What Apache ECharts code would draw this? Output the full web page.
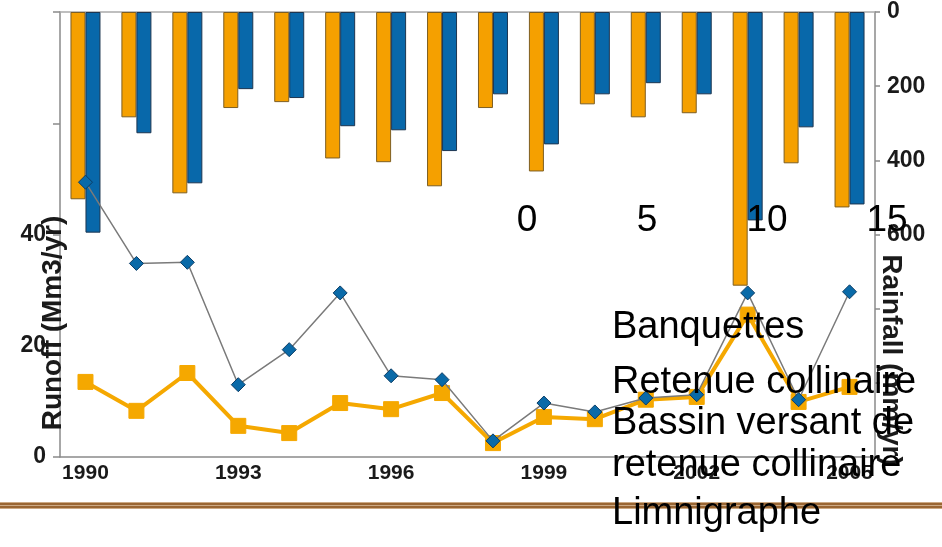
<!DOCTYPE html>
<html>
<head>
<meta charset="utf-8">
<script src="https://cdn.jsdelivr.net/npm/echarts@6/dist/echarts.min.js"></script>
<style>
html,body{margin:0;padding:0;background:#fff;}
#chart{width:942px;height:547px;}
</style>
</head>
<body>
<div id="chart"></div>
<script>
// ---- data ----
var years = ['1990','1991','1992','1993','1994','1995','1996','1997','1998','1999','2000','2001','2002','2003','2004','2005'];
// Runoff (Mm3/yr), left axis
var runoffDiamond = [49.4, 34.8, 35.0, 13.0, 19.3, 29.5, 14.6, 13.9, 2.9, 9.7, 8.1, 10.6, 11.2, 29.5, 10.3, 29.7];
var runoffSquare  = [13.5, 8.3, 15.1, 5.6, 4.3, 9.7, 8.6, 11.5, 2.5, 7.2, 6.8, 10.3, 10.8, 25.6, 9.9, 12.6];
// Rainfall (mm/yr), right axis (inverted)
var rainfallOrange = [505, 284, 489, 259, 243, 395, 405, 470, 259, 430, 249, 284, 273, 738, 408, 527];
var rainfallBlue   = [595, 327, 462, 208, 232, 308, 319, 375, 222, 357, 222, 192, 222, 562, 311, 519];
// overlay scale ticks
var overlayMin = 0, overlayMax = 15, overlayStep = 5;
// slide text
var slideLines = ['Banquettes', 'Retenue collinaire', 'Bassin versant de', 'retenue collinaire', 'Limnigraphe'];
var slideBaselines = [347, 402, 443, 485, 533];

var FONT = '"Liberation Sans", Arial, sans-serif';
var chart = echarts.init(document.getElementById('chart'));

var graphics = [
  {type:'rect', shape:{x:0, y:502, width:942, height:7}, style:{fill:'#CDAA85'}, z:1},
  {type:'rect', shape:{x:0, y:503, width:942, height:2}, style:{fill:'#9A6633'}, z:1},
  {type:'rect', shape:{x:0, y:506, width:942, height:2}, style:{fill:'#9A6633'}, z:1},
  {type:'text', x:53, y:323, rotation:Math.PI/2, z:50,
    style:{text:'Runoff (Mm3/yr)', font:'bold 28px ' + FONT, fill:'#1a1a1a', textAlign:'center', textVerticalAlign:'middle'}},
  {type:'text', x:891, y:360, rotation:-Math.PI/2, z:50,
    style:{text:'Rainfall (mm/yr)', font:'bold 28px ' + FONT, fill:'#1a1a1a', textAlign:'center', textVerticalAlign:'middle'}}
];
slideLines.forEach(function(t, i){
  graphics.push({type:'text', x:612, y:slideBaselines[i], z:100,
    style:{text:t, font:'38px ' + FONT, fill:'#000', textAlign:'left', textVerticalAlign:'bottom'}});
});

var axisGrey = '#8a8a8a';
var option = {
  backgroundColor:'#fff',
  animation:false,
  grid:[
    {left:60, right:67, top:12, bottom:90},
    {left:527, right:55, top:199, height:1}
  ],
  xAxis:[
    {type:'category', data:years, gridIndex:0, position:'bottom', boundaryGap:true,
     axisLine:{lineStyle:{color:axisGrey, width:1.5}},
     axisTick:{interval:0, length:6, lineStyle:{color:axisGrey, width:1.5}},
     axisLabel:{interval:2, margin:6, fontSize:21, fontWeight:'bold', color:'#1a1a1a', fontFamily:FONT},
     splitLine:{show:false}},
    {type:'category', data:years, gridIndex:0, position:'top', boundaryGap:true,
     axisLine:{show:true, lineStyle:{color:'#aaaaaa', width:1.5}},
     axisTick:{show:false}, axisLabel:{show:false}, splitLine:{show:false}},
    {type:'value', gridIndex:1, min:overlayMin, max:overlayMax, interval:overlayStep, z:60,
     axisLine:{show:false}, axisTick:{show:false}, splitLine:{show:false},
     axisLabel:{fontSize:37, color:'#000', margin:21, verticalAlign:'middle', fontFamily:FONT, showMinLabel:true, showMaxLabel:true}}
  ],
  yAxis:[
    {type:'value', gridIndex:0, position:'left', min:0, max:80, interval:20,
     axisLine:{show:true, lineStyle:{color:axisGrey, width:1.5}},
     axisTick:{show:true, length:7, lineStyle:{color:axisGrey, width:1.5}},
     axisLabel:{margin:14, fontSize:23, fontWeight:'bold', color:'#1a1a1a', fontFamily:FONT,
       formatter:function(v){return v <= 40 ? String(v) : '';}},
     splitLine:{show:false}},
    {type:'value', gridIndex:0, position:'right', inverse:true, min:0, max:1200, interval:200,
     axisLine:{show:true, lineStyle:{color:axisGrey, width:1.5}},
     axisTick:{show:true, length:5, lineStyle:{color:axisGrey, width:1.5}},
     axisLabel:{margin:12, fontSize:23, fontWeight:'bold', color:'#1a1a1a', fontFamily:FONT,
       formatter:function(v){return v <= 600 ? String(v) : '';}},
     splitLine:{show:false}},
    {type:'value', gridIndex:1, show:false, min:0, max:1}
  ],
  graphic:graphics,
  series:[
    {name:'Rainfall orange', type:'bar', xAxisIndex:0, yAxisIndex:1, data:rainfallOrange,
     barWidth:15, barGap:'0%', z:2,
     itemStyle:{color:'#F5A000', borderColor:'#7d5e22', borderWidth:1}},
    {name:'Rainfall blue', type:'bar', xAxisIndex:0, yAxisIndex:1, data:rainfallBlue,
     barWidth:15, barGap:'0%', z:2,
     itemStyle:{color:'#0868AA', borderColor:'#1d3550', borderWidth:1}},
    {name:'Runoff squares', type:'line', xAxisIndex:0, yAxisIndex:0, data:runoffSquare, z:3,
     symbol:'rect', symbolSize:15,
     lineStyle:{color:'#F5A800', width:4},
     itemStyle:{color:'#F5A800', borderColor:'#F5A800'}},
    {name:'Runoff diamonds', type:'line', xAxisIndex:0, yAxisIndex:0, data:runoffDiamond, z:4,
     symbol:'diamond', symbolSize:14,
     lineStyle:{color:'#7a7a7a', width:1.5},
     itemStyle:{color:'#0a6aa8', borderColor:'#0b3d66', borderWidth:1}}
  ]
};
chart.setOption(option);
</script>
</body>
</html>
